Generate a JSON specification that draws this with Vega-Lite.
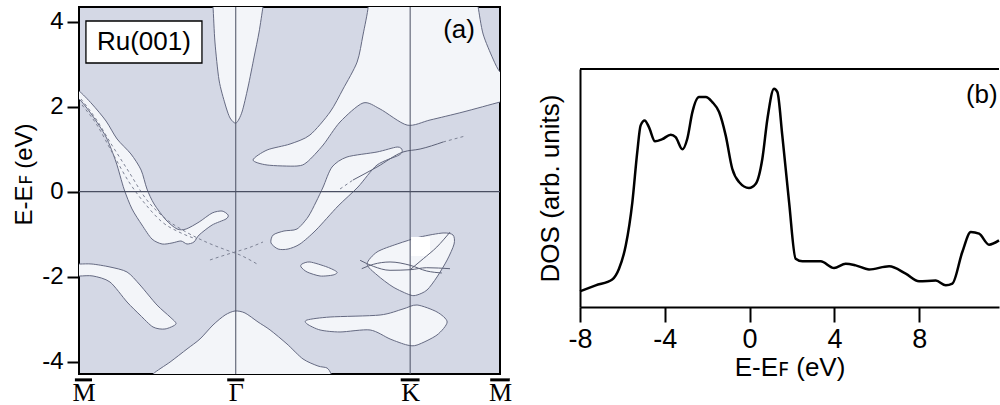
{
  "$schema": "https://vega.github.io/schema/vega-lite/v6.json",
  "background": "white",
  "padding": {"left": 11, "top": 5, "right": 0, "bottom": 0},
  "spacing": 24,
  "config": {
    "font": "Liberation Sans",
    "view": {"stroke": null},
    "axis": {"grid": false, "labelColor": "black", "titleColor": "black", "titleFontWeight": "normal", "domainColor": "black", "tickColor": "black"}
  },
  "hconcat": [
    {
      "width": 421,
      "height": 367,
      "view": {"fill": "#d4d8e5", "stroke": "black", "strokeWidth": 2},
      "layer": [
        {
          "data": {"values": [
            {"s":"A","i":0,"k":-0.051,"E":2.438},{"s":"A","i":1,"k":0,"E":2.367},{"s":"A","i":2,"k":0.073,"E":2.061},{"s":"A","i":3,"k":0.152,"E":1.661},{"s":"A","i":4,"k":0.214,"E":1.238},{"s":"A","i":5,"k":0.292,"E":0.885},{"s":"A","i":6,"k":0.349,"E":0.508},{"s":"A","i":7,"k":0.382,"E":0.061},{"s":"A","i":8,"k":0.422,"E":-0.292},{"s":"A","i":9,"k":0.489,"E":-0.668},{"s":"A","i":10,"k":0.551,"E":-0.88},{"s":"A","i":11,"k":0.602,"E":-0.88},{"s":"A","i":12,"k":0.675,"E":-0.715},{"s":"A","i":13,"k":0.748,"E":-0.504},{"s":"A","i":14,"k":0.804,"E":-0.457},{"s":"A","i":15,"k":0.838,"E":-0.551},{"s":"A","i":16,"k":0.826,"E":-0.645},{"s":"A","i":17,"k":0.748,"E":-0.786},{"s":"A","i":18,"k":0.675,"E":-1.021},{"s":"A","i":19,"k":0.646,"E":-1.186},{"s":"A","i":20,"k":0.607,"E":-1.233},{"s":"A","i":21,"k":0.573,"E":-1.162},{"s":"A","i":22,"k":0.523,"E":-1.209},{"s":"A","i":23,"k":0.467,"E":-1.233},{"s":"A","i":24,"k":0.41,"E":-1.115},{"s":"A","i":25,"k":0.354,"E":-0.786},{"s":"A","i":26,"k":0.298,"E":-0.409},{"s":"A","i":27,"k":0.253,"E":0.061},{"s":"A","i":28,"k":0.208,"E":0.697},{"s":"A","i":29,"k":0.152,"E":1.285},{"s":"A","i":30,"k":0.073,"E":1.803},{"s":"A","i":31,"k":0,"E":2.179},{"s":"A","i":32,"k":-0.051,"E":2.226},
            {"s":"B","i":0,"k":0.742,"E":4.579},{"s":"B","i":1,"k":0.753,"E":4.344},{"s":"B","i":2,"k":0.764,"E":3.52},{"s":"B","i":3,"k":0.787,"E":2.626},{"s":"B","i":4,"k":0.821,"E":2.061},{"s":"B","i":5,"k":0.849,"E":1.732},{"s":"B","i":6,"k":0.883,"E":1.614},{"s":"B","i":7,"k":0.916,"E":1.873},{"s":"B","i":8,"k":0.95,"E":2.461},{"s":"B","i":9,"k":0.984,"E":3.167},{"s":"B","i":10,"k":1.012,"E":3.755},{"s":"B","i":11,"k":1.034,"E":4.344},{"s":"B","i":12,"k":1.046,"E":4.579},{"s":"B","i":13,"k":0.894,"E":4.8},
            {"s":"C","i":0,"k":1.613,"E":4.579},{"s":"C","i":1,"k":1.625,"E":4.344},{"s":"C","i":2,"k":1.596,"E":3.685},{"s":"C","i":3,"k":1.563,"E":3.049},{"s":"C","i":4,"k":1.484,"E":2.414},{"s":"C","i":5,"k":1.411,"E":1.873},{"s":"C","i":6,"k":1.298,"E":1.332},{"s":"C","i":7,"k":1.186,"E":1.12},{"s":"C","i":8,"k":1.057,"E":0.979},{"s":"C","i":9,"k":0.978,"E":0.744},{"s":"C","i":10,"k":1.057,"E":0.626},{"s":"C","i":11,"k":1.225,"E":0.602},{"s":"C","i":12,"k":1.282,"E":0.696},{"s":"C","i":13,"k":1.372,"E":1.096},{"s":"C","i":14,"k":1.467,"E":1.638},{"s":"C","i":15,"k":1.596,"E":2.085},{"s":"C","i":16,"k":1.692,"E":1.944},{"s":"C","i":17,"k":1.844,"E":1.565},{"s":"C","i":18,"k":1.973,"E":1.685},{"s":"C","i":19,"k":2.158,"E":1.873},{"s":"C","i":20,"k":2.366,"E":2.108},{"s":"C","i":21,"k":2.434,"E":2.179},{"s":"C","i":22,"k":2.434,"E":2.579},{"s":"C","i":23,"k":2.366,"E":2.814},{"s":"C","i":24,"k":2.327,"E":3.12},{"s":"C","i":25,"k":2.271,"E":3.708},{"s":"C","i":26,"k":2.243,"E":4.344},{"s":"C","i":27,"k":2.232,"E":4.579},{"s":"C","i":28,"k":1.917,"E":4.814},
            {"s":"D","i":0,"k":1.372,"E":0.108},{"s":"D","i":1,"k":1.422,"E":0.579},{"s":"D","i":2,"k":1.506,"E":0.814},{"s":"D","i":3,"k":1.675,"E":0.932},{"s":"D","i":4,"k":1.788,"E":1.049},{"s":"D","i":5,"k":1.816,"E":0.979},{"s":"D","i":6,"k":1.799,"E":0.861},{"s":"D","i":7,"k":1.675,"E":0.626},{"s":"D","i":8,"k":1.568,"E":0.108},{"s":"D","i":9,"k":1.456,"E":-0.339},{"s":"D","i":10,"k":1.332,"E":-0.904},{"s":"D","i":11,"k":1.242,"E":-1.233},{"s":"D","i":12,"k":1.175,"E":-1.351},{"s":"D","i":13,"k":1.119,"E":-1.351},{"s":"D","i":14,"k":1.079,"E":-1.209},{"s":"D","i":15,"k":1.091,"E":-1.021},{"s":"D","i":16,"k":1.152,"E":-0.927},{"s":"D","i":17,"k":1.225,"E":-0.88},{"s":"D","i":18,"k":1.287,"E":-0.598},{"s":"D","i":19,"k":1.332,"E":-0.245},
            {"s":"E","i":0,"k":1.253,"E":-1.704},{"s":"E","i":1,"k":1.298,"E":-1.656},{"s":"E","i":2,"k":1.394,"E":-1.774},{"s":"E","i":3,"k":1.45,"E":-1.892},{"s":"E","i":4,"k":1.428,"E":-1.962},{"s":"E","i":5,"k":1.355,"E":-1.986},{"s":"E","i":6,"k":1.282,"E":-1.892},{"s":"E","i":7,"k":1.248,"E":-1.774},
            {"s":"F","i":0,"k":1.619,"E":-1.704},{"s":"F","i":1,"k":1.675,"E":-1.421},{"s":"F","i":2,"k":1.788,"E":-1.233},{"s":"F","i":3,"k":1.917,"E":-1.068},{"s":"F","i":4,"k":2.046,"E":-0.974},{"s":"F","i":5,"k":2.102,"E":-1.021},{"s":"F","i":6,"k":2.108,"E":-1.233},{"s":"F","i":7,"k":2.069,"E":-1.609},{"s":"F","i":8,"k":2.012,"E":-2.009},{"s":"F","i":9,"k":1.956,"E":-2.315},{"s":"F","i":10,"k":1.9,"E":-2.433},{"s":"F","i":11,"k":1.861,"E":-2.433},{"s":"F","i":12,"k":1.765,"E":-2.245},{"s":"F","i":13,"k":1.675,"E":-1.962},
            {"s":"G","i":0,"k":1.282,"E":-3.021},{"s":"G","i":1,"k":1.411,"E":-2.951},{"s":"G","i":2,"k":1.692,"E":-2.904},{"s":"G","i":3,"k":1.821,"E":-2.762},{"s":"G","i":4,"k":1.9,"E":-2.668},{"s":"G","i":5,"k":2.012,"E":-2.833},{"s":"G","i":6,"k":2.069,"E":-3.068},{"s":"G","i":7,"k":2.012,"E":-3.374},{"s":"G","i":8,"k":1.9,"E":-3.61},{"s":"G","i":9,"k":1.844,"E":-3.61},{"s":"G","i":10,"k":1.748,"E":-3.468},{"s":"G","i":11,"k":1.636,"E":-3.256},{"s":"G","i":12,"k":1.467,"E":-3.303},{"s":"G","i":13,"k":1.355,"E":-3.256},{"s":"G","i":14,"k":1.282,"E":-3.115},
            {"s":"H","i":0,"k":0.388,"E":-4.527},{"s":"H","i":1,"k":0.416,"E":-4.292},{"s":"H","i":2,"k":0.512,"E":-4.01},{"s":"H","i":3,"k":0.607,"E":-3.704},{"s":"H","i":4,"k":0.68,"E":-3.468},{"s":"H","i":5,"k":0.753,"E":-3.139},{"s":"H","i":6,"k":0.821,"E":-2.904},{"s":"H","i":7,"k":0.877,"E":-2.809},{"s":"H","i":8,"k":0.933,"E":-2.856},{"s":"H","i":9,"k":1.006,"E":-3.068},{"s":"H","i":10,"k":1.074,"E":-3.256},{"s":"H","i":11,"k":1.169,"E":-3.586},{"s":"H","i":12,"k":1.259,"E":-3.939},{"s":"H","i":13,"k":1.343,"E":-4.104},{"s":"H","i":14,"k":1.394,"E":-4.151},{"s":"H","i":15,"k":1.417,"E":-4.292},{"s":"H","i":16,"k":1.433,"E":-4.527},{"s":"H","i":17,"k":0.905,"E":-4.762},
            {"s":"I","i":0,"k":-0.039,"E":-1.704},{"s":"I","i":1,"k":0.006,"E":-1.704},{"s":"I","i":2,"k":0.073,"E":-1.704},{"s":"I","i":3,"k":0.174,"E":-1.774},{"s":"I","i":4,"k":0.27,"E":-1.892},{"s":"I","i":5,"k":0.343,"E":-2.198},{"s":"I","i":6,"k":0.438,"E":-2.668},{"s":"I","i":7,"k":0.512,"E":-2.951},{"s":"I","i":8,"k":0.545,"E":-3.115},{"s":"I","i":9,"k":0.483,"E":-3.233},{"s":"I","i":10,"k":0.416,"E":-3.186},{"s":"I","i":11,"k":0.343,"E":-2.904},{"s":"I","i":12,"k":0.27,"E":-2.598},{"s":"I","i":13,"k":0.174,"E":-2.127},{"s":"I","i":14,"k":0.079,"E":-1.986},{"s":"I","i":15,"k":0.006,"E":-1.986},{"s":"I","i":16,"k":-0.039,"E":-1.986}
          ]},
          "mark": {"type": "line", "filled": true, "fill": "#f3f5f9", "stroke": "#656a82", "strokeWidth": 1, "interpolate": "cardinal-closed", "tension": 0.2, "clip": true},
          "encoding": {
            "x": {"field": "k", "type": "quantitative", "scale": {"domain": [0, 2.366], "nice": false, "zero": false},
                  "axis": {"values": [0.025, 0.881, 1.861, 2.366], "labelExpr": "datum.value < 0.5 ? 'M' : datum.value < 1.3 ? 'Γ' : datum.value < 2.1 ? 'K' : 'M'", "labelFont": "Liberation Serif", "labelFontSize": 26, "ticks": false, "tickSize": 0, "domain": false, "labelFlush": false, "labelOverlap": false, "labelPadding": 5, "title": null}},
            "y": {"field": "E", "type": "quantitative", "scale": {"domain": [-4.292, 4.344], "nice": false, "zero": false},
                  "axis": {"values": [-4, -2, 0, 2, 4], "labelExpr": "replace(datum.label, '−', '-')", "tickSize": 12, "tickWidth": 2, "labelFontSize": 24, "labelPadding": 4, "domain": false, "title": "E-Eꜰ (eV)", "titleFontSize": 24, "titlePadding": 5, "titleY": 167}},
            "detail": {"field": "s"},
            "order": {"field": "i", "type": "quantitative"}
          }
        },
        {
          "data": {"values": [{"k": 1.866, "k2": 1.973, "E": -1.068, "E2": -1.515}]},
          "mark": {"type": "rect", "fill": "#ffffff"},
          "encoding": {
            "x": {"field": "k", "type": "quantitative"},
            "x2": {"field": "k2"},
            "y": {"field": "E", "type": "quantitative"},
            "y2": {"field": "E2"}
          }
        },
        {
          "data": {"values": [
            {"l":"d1","i":0,"k":0.011,"E":2.179},{"l":"d1","i":1,"k":0.096,"E":1.706},{"l":"d1","i":2,"k":0.185,"E":1.094},{"l":"d1","i":3,"k":0.281,"E":0.461},{"l":"d1","i":4,"k":0.377,"E":-0.174},{"l":"d1","i":5,"k":0.489,"E":-0.645},{"l":"d1","i":6,"k":0.602,"E":-0.951},{"l":"d1","i":7,"k":0.714,"E":-1.186},{"l":"d1","i":8,"k":0.827,"E":-1.374},{"l":"d1","i":9,"k":0.905,"E":-1.492},{"l":"d1","i":10,"k":1.001,"E":-1.704},
            {"l":"d2","i":0,"k":0.017,"E":2.038},{"l":"d2","i":1,"k":0.101,"E":1.567},{"l":"d2","i":2,"k":0.185,"E":0.932},{"l":"d2","i":3,"k":0.281,"E":0.226},{"l":"d2","i":4,"k":0.377,"E":-0.315},{"l":"d2","i":5,"k":0.467,"E":-0.715},{"l":"d2","i":6,"k":0.562,"E":-0.951},{"l":"d2","i":7,"k":0.658,"E":-1.115},
            {"l":"d3","i":0,"k":0.736,"E":-1.609},{"l":"d3","i":1,"k":0.804,"E":-1.515},{"l":"d3","i":2,"k":0.877,"E":-1.421},{"l":"d3","i":3,"k":0.95,"E":-1.327},{"l":"d3","i":4,"k":1.034,"E":-1.186},
            {"l":"d4","i":0,"k":1.467,"E":0.061},{"l":"d4","i":1,"k":1.54,"E":0.273},
            {"l":"d5","i":0,"k":2.046,"E":1.167},{"l":"d5","i":1,"k":2.17,"E":1.308}
          ]},
          "mark": {"type": "line", "stroke": "#7d8294", "strokeWidth": 1, "strokeDash": [3, 3], "interpolate": "monotone", "clip": true},
          "encoding": {
            "x": {"field": "k", "type": "quantitative"},
            "y": {"field": "E", "type": "quantitative"},
            "detail": {"field": "l"},
            "order": {"field": "i", "type": "quantitative"}
          }
        },
        {
          "data": {"values": [
            {"l":"s1","i":0,"k":1.54,"E":0.273},{"l":"s1","i":1,"k":1.675,"E":0.579},{"l":"s1","i":2,"k":1.821,"E":0.932},{"l":"s1","i":3,"k":1.917,"E":1.002},{"l":"s1","i":4,"k":2.046,"E":1.167},
            {"l":"s2","i":0,"k":1.58,"E":-1.617},{"l":"s2","i":1,"k":1.654,"E":-1.758},{"l":"s2","i":2,"k":1.748,"E":-1.852},{"l":"s2","i":3,"k":1.861,"E":-1.838},{"l":"s2","i":4,"k":1.954,"E":-1.791},{"l":"s2","i":5,"k":2.085,"E":-1.814},
            {"l":"s3","i":0,"k":1.589,"E":-1.814},{"l":"s3","i":1,"k":1.654,"E":-1.711},{"l":"s3","i":2,"k":1.748,"E":-1.656},{"l":"s3","i":3,"k":1.861,"E":-1.734},{"l":"s3","i":4,"k":1.954,"E":-1.868},{"l":"s3","i":5,"k":2.039,"E":-1.915},
            {"l":"s4","i":0,"k":1.861,"E":-1.838},{"l":"s4","i":1,"k":1.935,"E":-1.579},{"l":"s4","i":2,"k":2.011,"E":-1.304},{"l":"s4","i":3,"k":2.085,"E":-0.953}
          ]},
          "mark": {"type": "line", "stroke": "#5d6278", "strokeWidth": 1, "interpolate": "monotone", "clip": true},
          "encoding": {
            "x": {"field": "k", "type": "quantitative"},
            "y": {"field": "E", "type": "quantitative"},
            "detail": {"field": "l"},
            "order": {"field": "i", "type": "quantitative"}
          }
        },
        {
          "data": {"values": [{"k": 0.881}, {"k": 1.861}]},
          "mark": {"type": "rule", "color": "#4a4f62", "strokeWidth": 1},
          "encoding": {
            "x": {"field": "k", "type": "quantitative"}
          }
        },
        {
          "data": {"values": [{"E": 0}]},
          "mark": {"type": "rule", "color": "#4a4f62", "strokeWidth": 1.2},
          "encoding": {
            "y": {"field": "E", "type": "quantitative"}
          }
        },
        {
          "data": {"values": [{"k": 0.039, "k2": 0.691, "E": 4.014, "E2": 3.026}]},
          "mark": {"type": "rect", "fill": "white", "stroke": "black", "strokeWidth": 1.3},
          "encoding": {
            "x": {"field": "k", "type": "quantitative"},
            "x2": {"field": "k2"},
            "y": {"field": "E", "type": "quantitative"},
            "y2": {"field": "E2"}
          }
        },
        {
          "data": {"values": [{"k": 0.365, "E": 3.52, "t": "Ru(001)"}, {"k": 2.136, "E": 3.8, "t": "(a)"}]},
          "mark": {"type": "text", "fontSize": 26, "align": "center", "baseline": "middle", "color": "black"},
          "encoding": {
            "x": {"field": "k", "type": "quantitative"},
            "y": {"field": "E", "type": "quantitative"},
            "text": {"field": "t"}
          }
        },
        {
          "data": {"values": [{"k": -0.023, "k2": 0.073, "E": -4.43}, {"k": 0.833, "k2": 0.929, "E": -4.43}, {"k": 1.808, "k2": 1.914, "E": -4.43}, {"k": 2.311, "k2": 2.421, "E": -4.43}]},
          "mark": {"type": "rule", "color": "black", "strokeWidth": 3},
          "encoding": {
            "x": {"field": "k", "type": "quantitative"},
            "x2": {"field": "k2"},
            "y": {"field": "E", "type": "quantitative"}
          }
        }
      ]
    },
    {
      "width": 419,
      "height": 300,
      "layer": [
        {
          "data": {"values": [
            {"E":-8.0,"D":6.6},{"E":-7.26,"D":9.1},{"E":-6.48,"D":11.6},{"E":-6.16,"D":16.1},{"E":-5.84,"D":25.9},{"E":-5.53,"D":44.1},{"E":-5.3,"D":65.1},{"E":-5.14,"D":76.3},{"E":-4.95,"D":78.4},{"E":-4.75,"D":75.6},{"E":-4.46,"D":69.6},{"E":-4.12,"D":70.5},{"E":-3.72,"D":72.4},{"E":-3.49,"D":71.4},{"E":-3.17,"D":66.3},{"E":-2.94,"D":70.7},{"E":-2.7,"D":81.9},{"E":-2.39,"D":88.2},{"E":-2.07,"D":88.2},{"E":-1.76,"D":86.1},{"E":-1.44,"D":81.9},{"E":-1.13,"D":72.1},{"E":-0.82,"D":58.1},{"E":-0.5,"D":52.5},{"E":-0.03,"D":50.0},{"E":0.29,"D":51.8},{"E":0.6,"D":62.3},{"E":0.84,"D":79.1},{"E":1.15,"D":91.7},{"E":1.31,"D":90.3},{"E":1.54,"D":72.1},{"E":1.86,"D":44.1},{"E":2.17,"D":20.3},{"E":2.49,"D":19.2},{"E":3.35,"D":19.2},{"E":3.98,"D":16.4},{"E":4.53,"D":18.2},{"E":5.0,"D":17.5},{"E":5.63,"D":15.8},{"E":6.58,"D":17.1},{"E":7.36,"D":14.0},{"E":7.99,"D":10.8},{"E":8.78,"D":11.1},{"E":9.25,"D":9.1},{"E":9.56,"D":9.8},{"E":10.03,"D":23.1},{"E":10.43,"D":31.5},{"E":10.82,"D":30.8},{"E":11.29,"D":26.2},{"E":11.76,"D":28.0}
          ]},
          "mark": {"type": "line", "color": "black", "strokeWidth": 2.5, "interpolate": "monotone"},
          "encoding": {
            "x": {"field": "E", "type": "quantitative", "scale": {"domain": [-8, 11.76], "nice": false, "zero": false},
                  "axis": {"values": [-8, -4, 0, 4, 8], "labelExpr": "replace(datum.label, '−', '-')", "tickSize": 15, "tickWidth": 2, "labelFontSize": 27, "labelPadding": 4, "labelFlush": false, "domainWidth": 2, "title": "E-Eꜰ (eV)", "titleFontSize": 26, "titlePadding": 2}},
            "y": {"field": "D", "type": "quantitative", "scale": {"domain": [0, 100], "range": [300, 62], "nice": false, "zero": false},
                  "axis": {"ticks": false, "tickSize": 0, "labels": false, "domainWidth": 2, "title": "DOS (arb. units)", "titleFontSize": 26, "titlePadding": 17}}
          }
        },
        {
          "data": {"values": [{"D": 100}]},
          "mark": {"type": "rule", "color": "black", "strokeWidth": 2},
          "encoding": {
            "y": {"field": "D", "type": "quantitative"}
          }
        },
        {
          "data": {"values": [{"E": 10.95, "D": 89, "t": "(b)"}]},
          "mark": {"type": "text", "fontSize": 26, "align": "center", "baseline": "middle", "color": "black"},
          "encoding": {
            "x": {"field": "E", "type": "quantitative"},
            "y": {"field": "D", "type": "quantitative"},
            "text": {"field": "t"}
          }
        }
      ]
    }
  ]
}
